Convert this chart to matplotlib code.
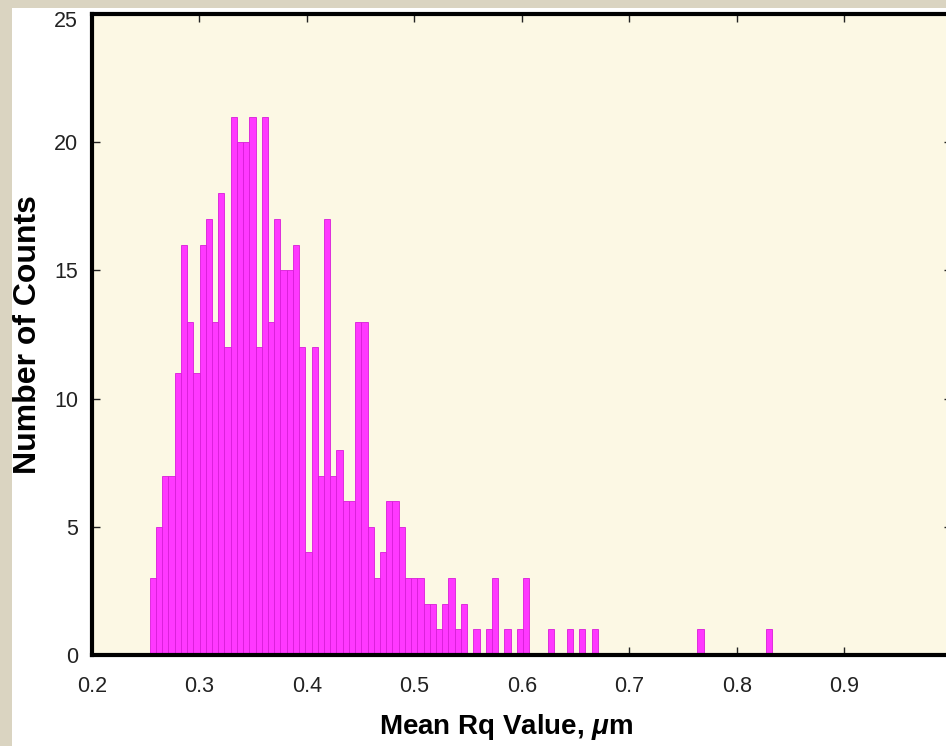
import numpy as np
import matplotlib
matplotlib.use("Agg")
import matplotlib.pyplot as plt
import matplotlib.transforms as mtransforms
from matplotlib.patches import Rectangle

plt.rcParams['font.family'] = ['Liberation Sans', 'DejaVu Sans']
plt.rcParams['mathtext.fontset'] = 'custom'
plt.rcParams['mathtext.rm'] = 'Liberation Sans:bold'
plt.rcParams['mathtext.it'] = 'Liberation Sans:italic:bold'
plt.rcParams['mathtext.bf'] = 'Liberation Sans:bold'

# Histogram of mean Rq values: 100 equal bins between the smallest and largest value
rq_min = 0.2538
rq_max = 0.8330
n_bins = 100
counts = [
    3, 5, 7, 7, 11, 16, 13, 11, 16, 17,
    13, 18, 12, 21, 20, 20, 21, 12, 21, 13,
    17, 15, 15, 16, 12, 4, 12, 7, 17, 7,
    8, 6, 6, 13, 13, 5, 3, 4, 6, 6,
    5, 3, 3, 3, 2, 2, 1, 2, 3, 1,
    2, 0, 1, 0, 1, 3, 0, 1, 0, 1,
    3, 0, 0, 0, 1, 0, 0, 1, 0, 1,
    0, 1, 0, 0, 0, 0, 0, 0, 0, 0,
    0, 0, 0, 0, 0, 0, 0, 0, 1, 0,
    0, 0, 0, 0, 0, 0, 0, 0, 0, 1,
]
x_ticks = [0.2, 0.3, 0.4, 0.5, 0.6, 0.7, 0.8, 0.9]
y_ticks = [0, 5, 10, 15, 20, 25]
x_label = r'Mean Rq Value, $\mu$m'
y_label = 'Number of Counts'

edges = np.linspace(rq_min, rq_max, n_bins + 1)

W, H = 946, 746
fig = plt.figure(figsize=(W / 100, H / 100), dpi=100, facecolor='white')

# slide-style frame strips along the left and top edges
fig.patches.append(Rectangle((0, 0), 12 / W, 1, transform=fig.transFigure,
                             facecolor='#DAD4C1', edgecolor='none', zorder=0))
fig.patches.append(Rectangle((0, 1 - 8 / H), 1, 8 / H, transform=fig.transFigure,
                             facecolor='#DAD4C1', edgecolor='none', zorder=0))

left, right, top, bottom = 92, 951.5, 14, 655
ax = fig.add_axes([left / W, 1 - bottom / H, (right - left) / W, (bottom - top) / H])
ax.set_facecolor('#FCF8E4')

ax.bar(edges[:-1], counts, width=np.diff(edges), align='edge',
       color='#FF38FF', edgecolor='#D81ED8', linewidth=0.6, zorder=2)

ax.set_xlim(0.2, 1.0)
ax.set_ylim(0, 25)
ax.set_xticks(x_ticks)
ax.set_xticklabels([f'{t:.1f}' for t in x_ticks])
ax.set_yticks(y_ticks)
ax.set_yticklabels([str(t) for t in y_ticks])

for s in ax.spines.values():
    s.set_linewidth(3.0)
    s.set_color('black')
    s.set_zorder(5)

ax.tick_params(axis='both', which='major', direction='in', length=6, width=1,
               top=True, right=True, labelsize=15.5, colors='#222222')
ax.tick_params(axis='x', pad=15)
ax.tick_params(axis='y', pad=10)

# keep the topmost y label clear of the frame strip
top_label = ax.get_yticklabels()[-1]
top_label.set_transform(top_label.get_transform() +
                        mtransforms.ScaledTranslation(0, -5 / 100, fig.dpi_scale_trans))

ax.set_xlabel(x_label, fontsize=20, fontweight='bold', va='center')
ax.set_ylabel(y_label, fontsize=23, fontweight='bold', va='center')
ax.xaxis.set_label_coords((506 - left) / (right - left), (bottom - 727) / (bottom - top))
ax.yaxis.set_label_coords((28 - left) / (right - left), (bottom - 335) / (bottom - top))

fig.savefig('out.png', dpi=100, facecolor=fig.get_facecolor())
